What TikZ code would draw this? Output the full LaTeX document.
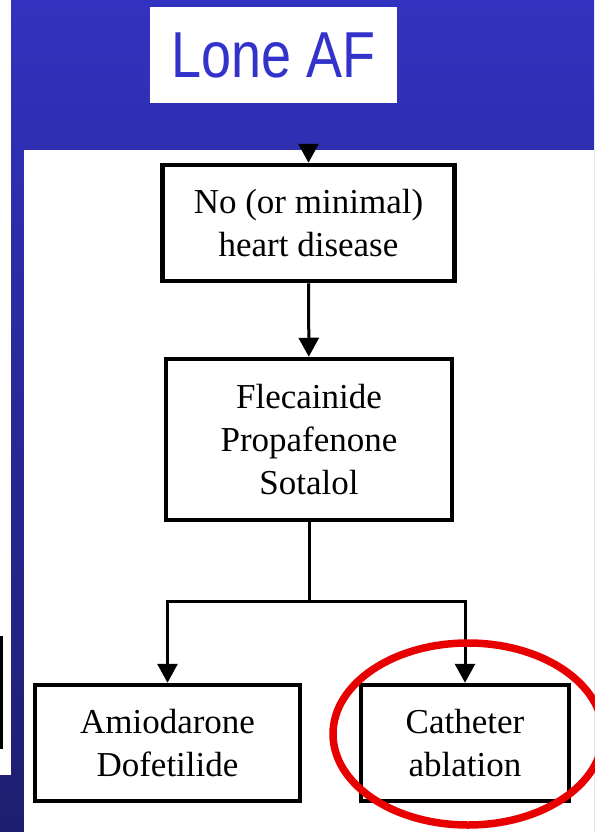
\documentclass[tikz,border=0pt]{standalone}
\usepackage{fontspec}
\setmainfont{Liberation Serif}
\newfontfamily\titlefont{Liberation Sans}
\usepackage{tikz}
\usetikzlibrary{arrows.meta}
\definecolor{slideblue}{RGB}{50,50,192}
\definecolor{slidedark}{RGB}{30,30,112}
\definecolor{titleblue}{RGB}{51,51,204}
\definecolor{ringred}{RGB}{232,0,0}
\tikzset{
	box/.style={draw,black,line width=4.5pt,fill=white,align=center,inner sep=0pt,font=\fontsize{35}{43}\selectfont},
	edge/.style={draw,black,line width=3pt},
	aedge/.style={edge,-{Triangle[width=20pt,length=19pt]}},
	ring/.style={draw=ringred,line width=7.5pt}
}

\begin{document}
\begin{tikzpicture}[x=1pt,y=-1pt]
\useasboundingbox (0,0) rectangle (594,832);

\shade[top color=slideblue,bottom color=slidedark] (0,0) rectangle (594,832);
\fill[white] (0,0) rectangle (11,775);
\draw[black,line width=3pt] (-2,637) -| (1.5,747) -- (-2,747);
\fill[white] (24,150) rectangle (594,832);

\node[fill=white,minimum width=247pt,minimum height=96pt,inner sep=0pt,text=titleblue,
      font=\titlefont\fontsize{65}{70}\selectfont] (title) at (273.5,55) {\scalebox{0.83}[1]{Lone AF}};

\coordinate (in) at (308.5,150);
\coordinate (split) at (309,601);

\node[box,minimum width=292pt,minimum height=116pt] (nodis) at (308.5,223) {No (or minimal)\\heart disease};
\node[box,minimum width=286pt,minimum height=161pt] (aad) at (309,439.5) {Flecainide\\Propafenone\\Sotalol};
\node[box,minimum width=265pt,minimum height=116pt] (amio) at (167.5,743) {Amiodarone\\Dofetilide};
\node[box,minimum width=208pt,minimum height=116pt] (abl) at (465,743) {Catheter\\ablation};

\draw[aedge] (in) -- (nodis);
\draw[aedge] (nodis) -- (aad);
\draw[edge] (aad) -- (split);
\draw[aedge] (split) -| (amio);
\draw[aedge] (split) -| (abl);

%\draw[ring] (465,743) circle (120pt);
\draw[ring] (468,734) ellipse [x radius=135pt, y radius=91pt];

\end{tikzpicture}
\end{document}
